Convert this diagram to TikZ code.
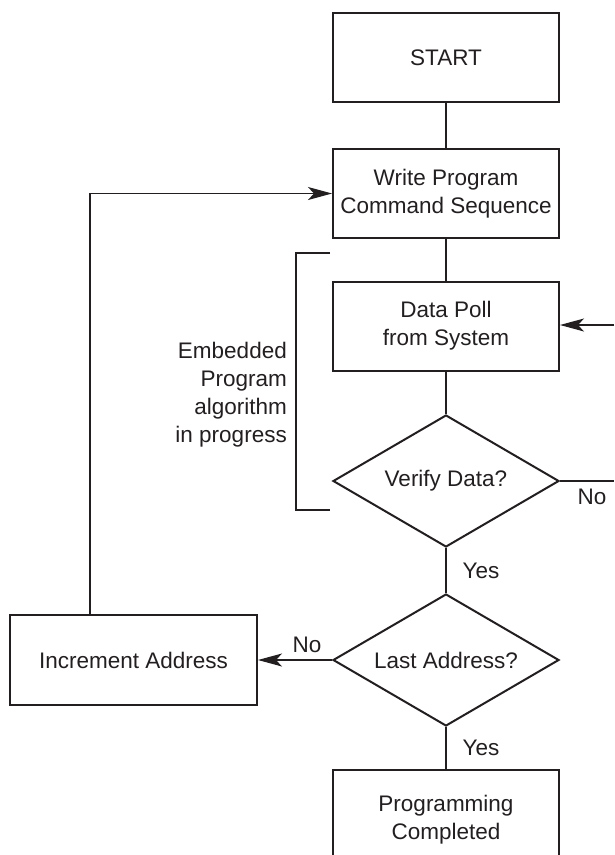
\documentclass[tikz,border=0pt]{standalone}
\usepackage{fontspec}
\setmainfont{Liberation Sans}
\usetikzlibrary{shapes.geometric,arrows.meta,calc}
\definecolor{ink}{HTML}{231F20}
\begin{document}
\begin{tikzpicture}[x=1pt,y=-1pt,
  every node/.style={text=ink, font=\fontsize{22.5}{28}\selectfont},
  box/.style={draw=ink, line width=2pt, rectangle, minimum width=226pt,
              minimum height=89pt, inner sep=0pt, align=center},
  decision/.style={draw=ink, line width=2pt, diamond, minimum width=226pt,
              minimum height=132pt, inner sep=0pt},
  link/.style={draw=ink, line width=1.1pt},
  arrow/.style={link, -{Stealth[length=24pt, width=13pt, inset=6pt]}},
  lbl/.style={inner sep=0pt}]
\useasboundingbox (0,0) rectangle (614,855);

% process boxes
\node[box] (start) at (446,57.5) {START};
\node[box] (write) at (446,193.5) {Write Program\\Command Sequence};
\node[box] (poll)  at (446,326) {Data Poll\\from System};
\node[box, minimum width=247pt, minimum height=90pt] (inc) at (133.5,660) {Increment Address};
\node[box, minimum height=99pt] (done)  at (446,819.5) {Programming\\Completed};

% decisions
\node[decision] (verify) at (446,481) {};
\node[lbl] at (verify) {Verify Data?};
\node[decision] (last) at (446,660) {};
\node[lbl] at (last) {Last Address?};

% loose ends at the right border
\coordinate (retin) at (614,325);
\coordinate (retout) at (614,481);
\coordinate (loopup) at ($(inc.north west)+(81,0)$);

% connectors
\draw[link] (start.south) -- (write.north);
\draw[link] (write.south) -- (poll.north);
\draw[link] (poll.south) -- (verify.north);
\draw[link] (verify.south) -- (last.north);
\draw[link] (last.south) -- (done.north);
\draw[link] (verify.east) -- (retout);
\draw[arrow] (retin) -- (poll.east |- retin);
\draw[arrow] (last.west) -- (inc.east);
\draw[arrow] (loopup) |- (write.west);

% labels
\node[lbl] (no1) at (592,497) {No};
\node[lbl] (no2) at (307,645) {No};
\node[lbl] (yes1) at (481,571) {Yes};
\node[lbl] (yes2) at (481,748) {Yes};

% bracket around the embedded algorithm
\coordinate (bt) at (330,253);
\coordinate (bb) at (330,510);
\draw[draw=ink, line width=1.6pt] (bt) -- (296,253) -- (296,510) -- (bb);
\node[lbl, anchor=east, align=right] (emb) at (287,395)
  {Embedded\\Program\\algorithm\\in progress};
\end{tikzpicture}
\end{document}
